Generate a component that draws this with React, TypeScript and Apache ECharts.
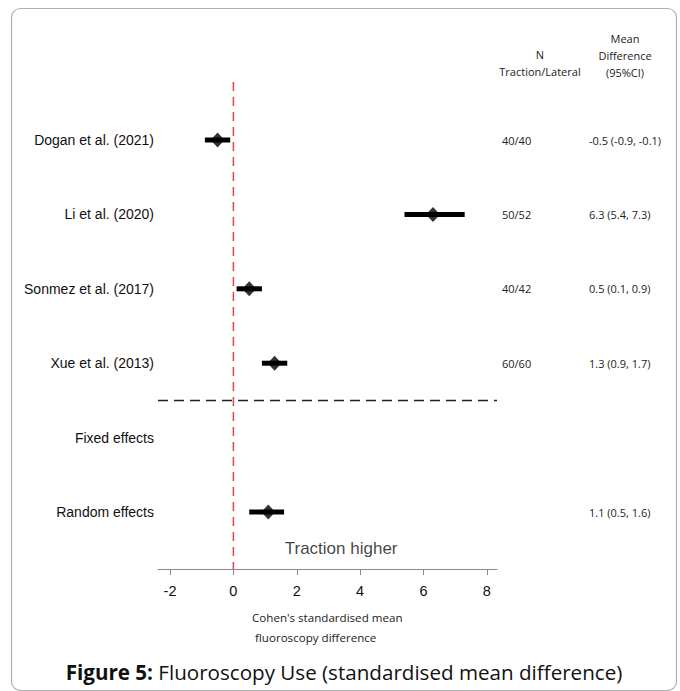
import React, { useEffect, useRef } from "react";
import * as echarts from "echarts";

// ---- data ----
const rowLabels = [
  "Dogan et al. (2021)",
  "Li et al. (2020)",
  "Sonmez et al. (2017)",
  "Xue et al. (2013)",
  "Fixed effects",
  "Random effects",
];
const means: (number | null)[] = [-0.5, 6.3, 0.5, 1.3, null, 1.1];
const lowers: (number | null)[] = [-0.9, 5.4, 0.1, 0.9, null, 0.5];
const uppers: (number | null)[] = [-0.1, 7.3, 0.9, 1.7, null, 1.6];
const nCounts = ["40/40", "50/52", "40/42", "60/60", "", ""];
const xTicks = [-2, 0, 2, 4, 6, 8];
const xMin = -2.38;
const xMax = 8.32;
const separatorRow = 3.5;
const refTop = -0.78;
const yMin = -1;
const yMax = 5.766;

const fmt = (v: number) => v.toFixed(1);
const mdText = means.map((m, i) =>
  m === null ? "" : `${fmt(m)} (${fmt(lowers[i] as number)}, ${fmt(uppers[i] as number)})`
);

const labelAt = (arr: string[]) => (v: number) => {
  const i = Math.round(v);
  if (Math.abs(v - i) > 1e-6 || i < 0 || i >= arr.length) return "";
  return arr[i];
};

export default function App() {
  const ref = useRef<HTMLDivElement>(null);
  useEffect(() => {
    if (!ref.current) return;
    const chart = echarts.init(ref.current, undefined, { renderer: "svg" });

    const ciData = means
      .map((m, i) => (m === null ? null : [lowers[i], uppers[i], i]))
      .filter((d) => d !== null);
    const pointData = means
      .map((m, i) => (m === null ? null : [m, i]))
      .filter((d) => d !== null);

    const tableFont = "'Open Sans', sans-serif";

    chart.setOption({
      animation: false,
      backgroundColor: "#fff",
      grid: { left: 158, right: 183, top: 65.6, bottom: 122, containLabel: false },
      xAxis: {
        type: "value",
        min: xMin,
        max: xMax,
        splitLine: { show: false },
        axisLine: { show: true, onZero: false, lineStyle: { color: "#8a8a8a", width: 1 } },
        axisTick: {
          show: true,
          customValues: xTicks,
          length: 6,
          lineStyle: { color: "#8a8a8a", width: 1 },
        },
        axisLabel: {
          customValues: xTicks,
          color: "#111",
          fontSize: 14.5,
          fontFamily: "'Liberation Sans', Arial, sans-serif",
          margin: 14,
        },
      },
      yAxis: [
        {
          type: "value",
          inverse: true,
          min: yMin,
          max: yMax,
          interval: 1,
          axisLine: { show: false },
          axisTick: { show: false },
          splitLine: { show: false },
          axisLabel: {
            formatter: labelAt(rowLabels),
            color: "#111",
            fontSize: 14,
            fontFamily: "'Liberation Sans', Arial, sans-serif",
            margin: 4,
          },
        },
        {
          type: "value",
          inverse: true,
          position: "right",
          min: yMin,
          max: yMax,
          interval: 1,
          axisLine: { show: false },
          axisTick: { show: false },
          splitLine: { show: false },
          axisLabel: {
            formatter: labelAt(nCounts),
            color: "#222",
            fontSize: 11,
            fontFamily: tableFont,
            align: "left",
            margin: 5,
          },
        },
        {
          type: "value",
          inverse: true,
          position: "right",
          offset: 87,
          min: yMin,
          max: yMax,
          interval: 1,
          axisLine: { show: false },
          axisTick: { show: false },
          splitLine: { show: false },
          axisLabel: {
            formatter: labelAt(mdText),
            color: "#222",
            fontSize: 11,
            fontFamily: tableFont,
            align: "left",
            margin: 5,
          },
        },
      ],
      series: [
        {
          type: "line",
          data: [
            [0, refTop],
            [0, yMax],
          ],
          symbol: "none",
          color: "#e5424d",
          lineStyle: { color: "#e5424d", width: 1.5, type: [9, 6] },
          z: 1,
        },
        {
          type: "line",
          data: [
            [xMin, separatorRow],
            [xMax, separatorRow],
          ],
          symbol: "none",
          color: "#222",
          lineStyle: { color: "#222", width: 1.5, type: [10, 6] },
          z: 1,
        },
        {
          type: "custom",
          data: ciData,
          renderItem: (params: any, api: any) => {
            const a = api.coord([api.value(0), api.value(2)]);
            const b = api.coord([api.value(1), api.value(2)]);
            return {
              type: "line",
              shape: { x1: a[0], y1: a[1], x2: b[0], y2: b[1] },
              style: { stroke: "#000", lineWidth: 5 },
            };
          },
          z: 2,
        },
        {
          type: "scatter",
          data: pointData,
          symbol: "diamond",
          symbolSize: [14, 15],
          itemStyle: { color: "#000" },
          z: 3,
        },
        {
          type: "scatter",
          data: [[3.4, 5.49]],
          symbolSize: 0,
          label: {
            show: true,
            position: "inside",
            formatter: "Traction higher",
            color: "#111",
            fontSize: 17,
            fontFamily: "'Liberation Sans', Arial, sans-serif",
          },
          silent: true,
          z: 3,
        },
      ],
      graphic: [
        {
          type: "rect",
          shape: { x: 11.5, y: 8.5, width: 665, height: 682, r: 9 },
          style: { fill: "none", stroke: "#b0b0b0", lineWidth: 1.2 },
          z: -10,
          silent: true,
        },
        {
          type: "text",
          x: 540,
          y: 63,
          style: {
            text: "N\nTraction/Lateral",
            textAlign: "center",
            textVerticalAlign: "middle",
            font: `11px ${tableFont}`,
            lineHeight: 17,
            fill: "#222",
          },
        },
        {
          type: "text",
          x: 625,
          y: 55,
          style: {
            text: "Mean\nDifference\n(95%CI)",
            textAlign: "center",
            textVerticalAlign: "middle",
            font: `11px ${tableFont}`,
            lineHeight: 17,
            fill: "#222",
          },
        },
        {
          type: "text",
          x: 252,
          y: 617,
          style: {
            text: "Cohen's standardised mean",
            textAlign: "left",
            textVerticalAlign: "middle",
            font: `11.6px ${tableFont}`,
            fill: "#222",
          },
        },
        {
          type: "text",
          x: 255,
          y: 637,
          style: {
            text: "fluoroscopy difference",
            textAlign: "left",
            textVerticalAlign: "middle",
            font: `11.6px ${tableFont}`,
            fill: "#222",
          },
        },
        {
          type: "text",
          x: 344,
          y: 672,
          style: {
            text: "{b|Figure 5:} Fluoroscopy Use (standardised mean difference)",
            textAlign: "center",
            textVerticalAlign: "middle",
            font: `20.6px ${tableFont}`,
            fill: "#111",
            rich: {
              b: { fontWeight: "bold", fontSize: 20.6, fontFamily: tableFont, fill: "#111" },
            },
          },
        },
      ],
    });
    return () => chart.dispose();
  }, []);
  return (
    <div
      ref={ref}
      style={{ position: "absolute", left: 0, top: 0, width: 680, height: 691 }}
    />
  );
}
